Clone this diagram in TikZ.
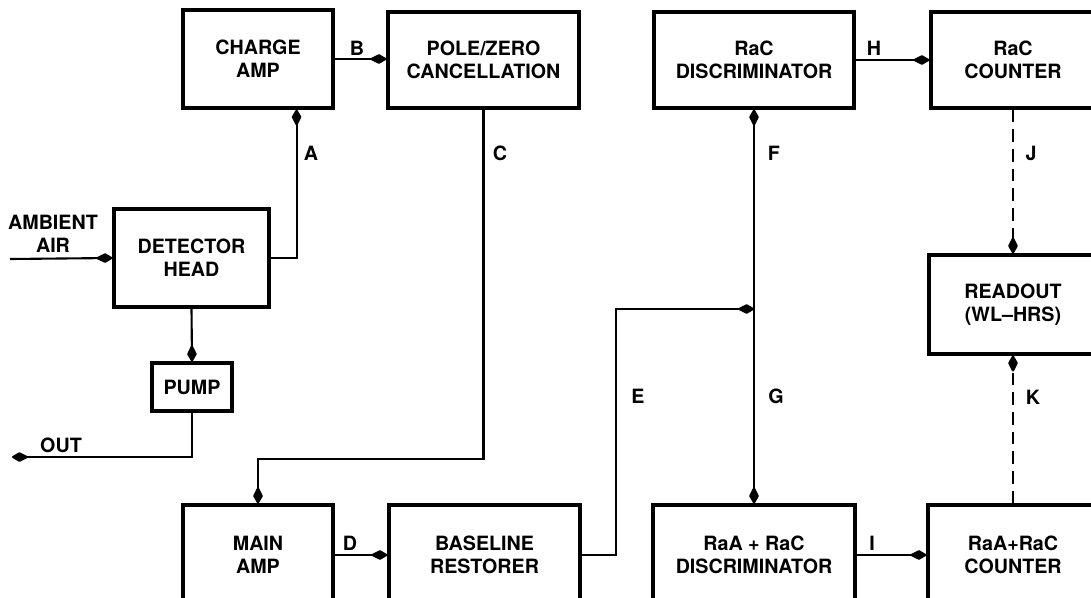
\documentclass[tikz,border=0pt]{standalone}
\usepackage{fontspec}
\setmainfont{TeX Gyre Heros}
\usetikzlibrary{calc,arrows.meta}

\begin{document}
\begin{tikzpicture}[x=0.025cm,y=-0.025cm,
    blk/.style={draw, line width=2.2pt, align=center, inner sep=0pt,
      font=\fontsize{14}{16.6}\selectfont\bfseries},
    sig/.style={line width=1.5pt, -{Kite[length=13pt,width=7pt,inset=7pt,round]}},
    dsig/.style={sig, dash pattern=on 9pt off 5pt},
    lbl/.style={font=\fontsize{14}{16.6}\selectfont\bfseries, align=center}]
      \useasboundingbox (0,0) rectangle (1091,598);
      \clip (0,0) rectangle (1091,598);

      % top row
      \node[blk, minimum width=3.75cm, minimum height=2.45cm] (champ) at (258,59) {CHARGE\\AMP};
      \node[blk, minimum width=4.775cm, minimum height=2.4cm] (polezero) at (483.5,60) {POLE/ZERO\\CANCELLATION};
      \node[blk, minimum width=5cm, minimum height=2.4cm] (racdisc) at (754,60) {RaC\\DISCRIMINATOR};
      \node[blk, minimum width=4.1cm, minimum height=2.4cm] (raccount) at (1013,60) {RaC\\COUNTER};

      % middle
      \node[blk, minimum width=3.875cm, minimum height=2.45cm] (dethead) at (191.5,258) {DETECTOR\\HEAD};
      \node[blk, minimum width=4.2cm, minimum height=2.475cm] (readout) at (1013,304.5) {READOUT\\(WL--HRS)};
      \node[blk, minimum width=2cm, minimum height=1.2cm] (pump) at (192,387) {PUMP};

      % bottom row
      \node[blk, minimum width=3.75cm, minimum height=2.5cm] (mainamp) at (258,555) {MAIN\\AMP};
      \node[blk, minimum width=4.775cm, minimum height=2.5cm] (baseline) at (484.5,555) {BASELINE\\RESTORER};
      \node[blk, minimum width=5.05cm, minimum height=2.5cm] (raadisc) at (754,555) {RaA + RaC\\DISCRIMINATOR};
      \node[blk, minimum width=4.25cm, minimum height=2.5cm] (raacount) at (1013,555) {RaA+RaC\\COUNTER};

      % air in and out
      \coordinate (airin) at (10,259);
      \coordinate (airout) at (12,457);
      \node[lbl] (ambient) at (53,234) {AMBIENT\\AIR};
      \node[lbl] (out) at (61,445) {OUT};
      \draw[sig] (airin) -- (dethead.west);
      \draw[sig] (dethead.south) -- (pump.north);
      \draw[sig] (pump.south) |- (airout);

      % signal path
      \draw[sig] (dethead.east) -- ++(26,0) coordinate (a1) -- (a1 |- champ.south);
      \draw[sig] (champ.east) -- (champ.east -| polezero.west);
      \draw[sig] (polezero.south) -- ++(0,349) -| (mainamp.north);
      \draw[sig] (mainamp.east) -- (baseline.west);
      \coordinate (j) at (754,309);
      \draw[sig] (baseline.east) -- ++(34,0) |- (j);
      \draw[sig] (j) -- (j |- racdisc.south);
      \draw[sig] (j) -- (j |- raadisc.north);
      \draw[sig] (racdisc.east) -- (racdisc.east -| raccount.west);
      \draw[sig] (raadisc.east) -- (raadisc.east -| raacount.west);
      \draw[dsig] (raccount.south) -- (readout.north);
      \draw[dsig] (raacount.north) -- (readout.south);

      % line labels
      \node[lbl] (la) at (311,153) {A};
      \node[lbl] (lb) at (357,48) {B};
      \node[lbl] (lc) at (500,153) {C};
      \node[lbl] (ld) at (350,543) {D};
      \node[lbl] (le) at (638,396) {E};
      \node[lbl] (lf) at (774,153) {F};
      \node[lbl] (lg) at (776,396) {G};
      \node[lbl] (lh) at (874,48) {H};
      \node[lbl] (li) at (872,543) {I};
      \node[lbl] (lj) at (1031,153) {J};
      \node[lbl] (lk) at (1033,397) {K};
\end{tikzpicture}
\end{document}
